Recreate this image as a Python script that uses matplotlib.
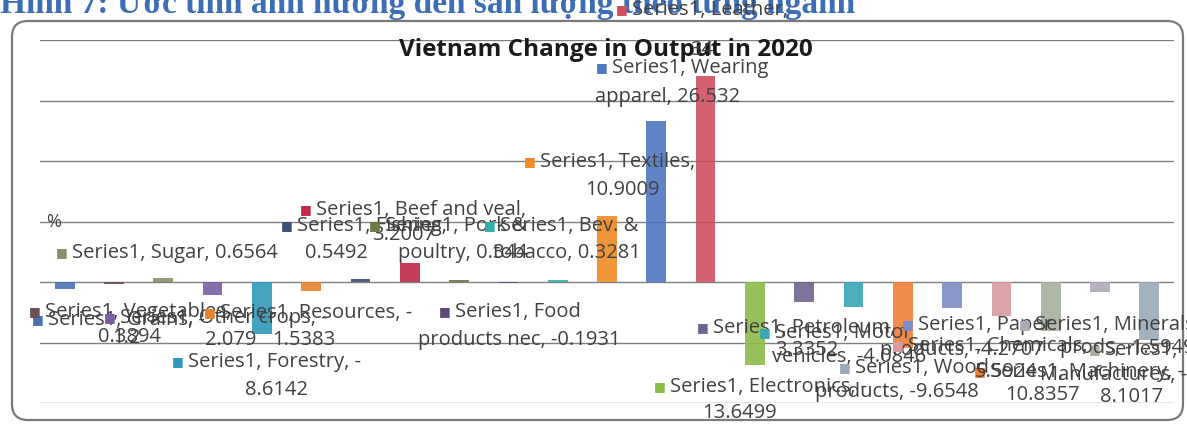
import numpy as np
import matplotlib.pyplot as plt
from matplotlib.patches import FancyBboxPatch
from matplotlib.transforms import IdentityTransform

W, H = 1187, 427

# sectors, % change in output
sectors = ["Grains", "Vegetables", "Sugar", "Other crops", "Forestry", "Resources",
           "Fishing", "Beef and veal", "Pork & poultry", "Food products nec",
           "Bev. & tobacco", "Textiles", "Wearing apparel", "Leather", "Electronics",
           "Petroleum", "Motor vehicles", "Machinery", "Paper products", "Chemicals",
           "Manufactures", "Minerals prods", "Wood products"]
change = [-1.2, -0.3894, 0.6564, -2.079, -8.6142, -1.5383,
          0.5492, 3.2007, 0.344, -0.1931,
          0.3281, 10.9009, 26.532, 34, -13.6499,
          -3.3352, -4.0846, -10.8357, -4.2707, -5.5924,
          -8.1017, -1.5949, -9.6548]

bar_colors = ["#4a72b0", "#6b4f55", "#8c8c6a", "#7a5fa0", "#2f9ab8", "#e8822a",
              "#3d4f75", "#c0284a", "#6a7a40", "#5d4a7a", "#30b0a8", "#f08a24",
              "#4f78c0", "#d05060", "#8dbb4a", "#6f6490", "#3aa7b5", "#f0803a",
              "#7c8cc4", "#d89aa0", "#a7b09e", "#b0a8b8", "#9aaab8"]

# data label layout: tokens per line, (left px, y px) per line
label_layout = {
    "Grains": ((3, 1), [(48, 320), (112, 338)]),
    "Vegetables": ((3, 1), [(45, 312), (98, 337)]),
    "Sugar": ((4,), [(72, 253)]),
    "Other crops": ((4, 1), [(120, 318), (205, 340)]),
    "Forestry": ((3, 1), [(188, 362), (245, 390)]),
    "Resources": ((3, 1), [(220, 313), (272, 340)]),
    "Fishing": ((2, 1), [(297, 226), (305, 253)]),
    "Beef and veal": ((4, 1), [(316, 210), (372, 235)]),
    "Pork & poultry": ((3, 2), [(385, 226), (398, 253)]),
    "Food products nec": ((2, 4), [(455, 312), (418, 340)]),
    "Bev. & tobacco": ((3, 2), [(500, 226), (493, 253)]),
    "Textiles": ((2, 1), [(540, 162), (585, 190)]),
    "Wearing apparel": ((2, 2), [(612, 68), (595, 97)]),
    "Leather": ((2, 1), [(632, 10), (690, 50)]),
    "Electronics": ((3, 1), [(670, 387), (702, 413)]),
    "Petroleum": ((3, 1), [(713, 328), (775, 350)]),
    "Motor vehicles": ((2, 3), [(775, 333), (772, 357)]),
    "Machinery": ((3, 1), [(990, 372), (1005, 395)]),
    "Paper products": ((2, 3), [(918, 325), (880, 350)]),
    "Chemicals": ((3, 1), [(908, 346), (975, 372)]),
    "Manufactures": ((1, 2, 1), [(1105, 350), (1040, 375), (1100, 397)]),
    "Minerals prods": ((2, 3), [(1035, 325), (1060, 348)]),
    "Wood products": ((2, 3), [(855, 368), (815, 392)]),
}

plt.rcParams["font.family"] = ["Open Sans", "DejaVu Sans"]

fig = plt.figure(figsize=(W / 100, H / 100), dpi=100)
fig.patch.set_facecolor("white")

def fx(x):
    return x / W

def fy(y):
    return 1 - y / H

# rounded chart frame
frame = FancyBboxPatch((12, H - 421), 1171, 399, boxstyle="round,pad=0,rounding_size=16",
                       transform=IdentityTransform(), facecolor="white",
                       edgecolor="#7a7a7a", linewidth=1.6, zorder=0)
fig.add_artist(frame)

ax = fig.add_axes([fx(40), fy(404), (1174 - 40) / W, (404 - 41) / H])
ax.set_facecolor("none")
x = np.arange(len(sectors))
ax.bar(x, change, width=0.4, color=bar_colors, alpha=0.9, zorder=3)
ax.set_xlim(-0.5, len(sectors) - 0.5)
ax.set_ylim(-20, 40)
ax.set_yticks(np.arange(-20, 41, 10))
ax.yaxis.grid(True, color="#808080", linewidth=1.0, zorder=0)
ax.tick_params(left=False, bottom=False, labelleft=False, labelbottom=False)
for s in ax.spines.values():
    s.set_visible(False)

# heading above the chart, cut off at the top edge
fig.text(fx(0), fy(13), "Hình 7: Ước tính ảnh hưởng đến sản lượng theo từng ngành",
         family="Liberation Serif", fontweight="bold", fontsize=24, color="#3d6eb5",
         ha="left", va="baseline")

fig.text(fx(606), fy(50), "Vietnam Change in Output in 2020", fontsize=17.5,
         fontweight="bold", color="#1a1a1a", ha="center", va="center", zorder=5)
fig.text(fx(46), fy(222), "%", fontsize=13, color="#404040", ha="left", va="center")

for i, name in enumerate(sectors):
    text = f"Series1, {name}, {change[i]:g}"
    tokens = text.replace(", -", ", - ").split(" ")
    breaks, spots = label_layout[name]
    k = 0
    for n, (lx, ly) in zip(breaks, spots):
        line = " ".join(tokens[k:k + n]).replace("- ", "-")
        k += n
        fig.text(fx(lx), fy(ly), line, fontsize=14.5, color="#404040",
                 ha="left", va="center", zorder=6)
    mx, my = spots[0]
    fig.text(fx(mx - 16), fy(my), "■", family="DejaVu Sans", fontsize=9,
             color=bar_colors[i], ha="left", va="center", zorder=6)

fig.savefig("out.png", dpi=100)
